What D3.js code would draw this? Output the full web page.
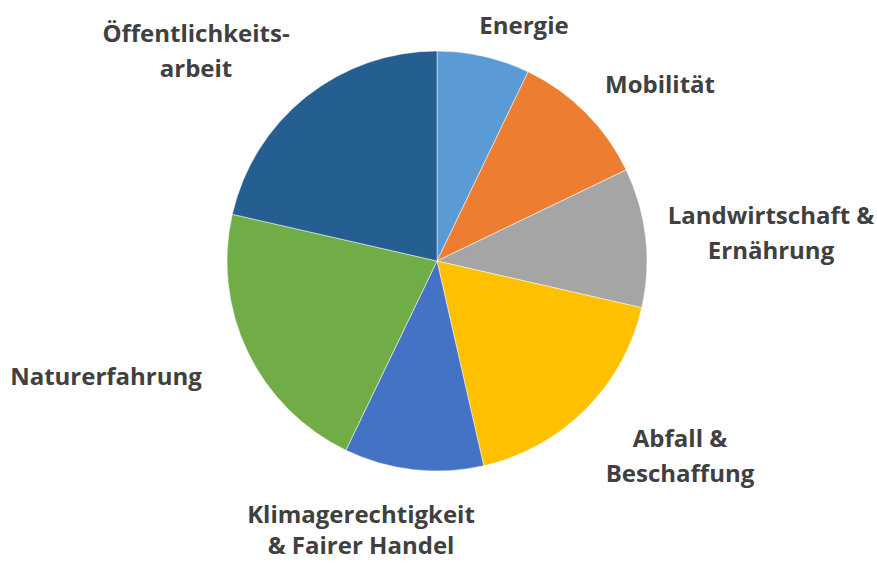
<!DOCTYPE html>
<html>
<head>
<meta charset="utf-8">
<script src="https://cdn.jsdelivr.net/npm/d3@7"></script>
<style>
  body { margin: 0; background: #fff; }
  text { font-family: "Open Sans", Lato, sans-serif; font-weight: 700; fill: #404040; }
</style>
</head>
<body>
<div id="chart"></div>
<script>
// Themen (Anzahl)
var categories = ["Energie", "Mobilität", "Landwirtschaft & Ernährung", "Abfall & Beschaffung",
  "Klimagerechtigkeit & Fairer Handel", "Naturerfahrung", "Öffentlichkeitsarbeit"];
var values = [2, 3, 3, 5, 3, 6, 6];
var colors = ["#5B9BD5", "#ED7D31", "#A5A5A5", "#FFC000", "#4472C4", "#70AD47", "#255E91"];
// label lines as shown in the chart
var labelLines = [
  ["Energie"],
  ["Mobilität"],
  ["Landwirtschaft &", "Ernährung"],
  ["Abfall &", "Beschaffung"],
  ["Klimagerechtigkeit", "& Fairer Handel"],
  ["Naturerfahrung"],
  ["Öffentlichkeits-", "arbeit"]
];

function plot_pie(){
  var width = 877, height = 563;
  var cx = 437, cy = 261, radius = 210;

  var svg = d3.select("#chart")
    .append("svg")
      .attr("width", width)
      .attr("height", height);

  var g = svg.append("g")
      .attr("transform", "translate(" + cx + "," + cy + ")");

  var data = categories.map(function(c, i){ return {name: c, value: values[i], i: i}; });

  var pie = d3.pie().sort(null).value(function(d){ return d.value; });
  var arc = d3.arc().innerRadius(0).outerRadius(radius);
  var arcs = pie(data);

  g.selectAll("path.slice")
    .data(arcs)
    .enter()
    .append("path")
      .attr("class", "slice")
      .attr("d", arc)
      .style("fill", function(d){ return colors[d.data.i]; })
      .style("stroke", "#fff")
      .style("stroke-width", 0.5);

  // label placement (center x, first baseline y, line step) in page pixels
  var labelPos = [[524, 34, 34], [660, 93, 34], [771, 224, 35], [680, 447, 35],
                  [361, 523, 31], [106, 385, 34], [196, 42, 35]];
  var fontSize = 24;

  var labels = svg.selectAll("text.label")
    .data(arcs)
    .enter()
    .append("text")
      .attr("class", "label")
      .attr("text-anchor", "middle")
      .style("font-size", fontSize + "px")
      .attr("transform", function(d){
        var p = labelPos[d.data.i];
        return "translate(" + p[0] + "," + p[1] + ")";
      });

  labels.selectAll("tspan")
    .data(function(d){
      var step = labelPos[d.data.i][2];
      return labelLines[d.data.i].map(function(t){ return {t: t, step: step}; });
    })
    .enter()
    .append("tspan")
      .attr("x", 0)
      .attr("dy", function(d, j){ return j === 0 ? 0 : d.step; })
      .text(function(d){ return d.t; });
}

plot_pie();
</script>
</body>
</html>
